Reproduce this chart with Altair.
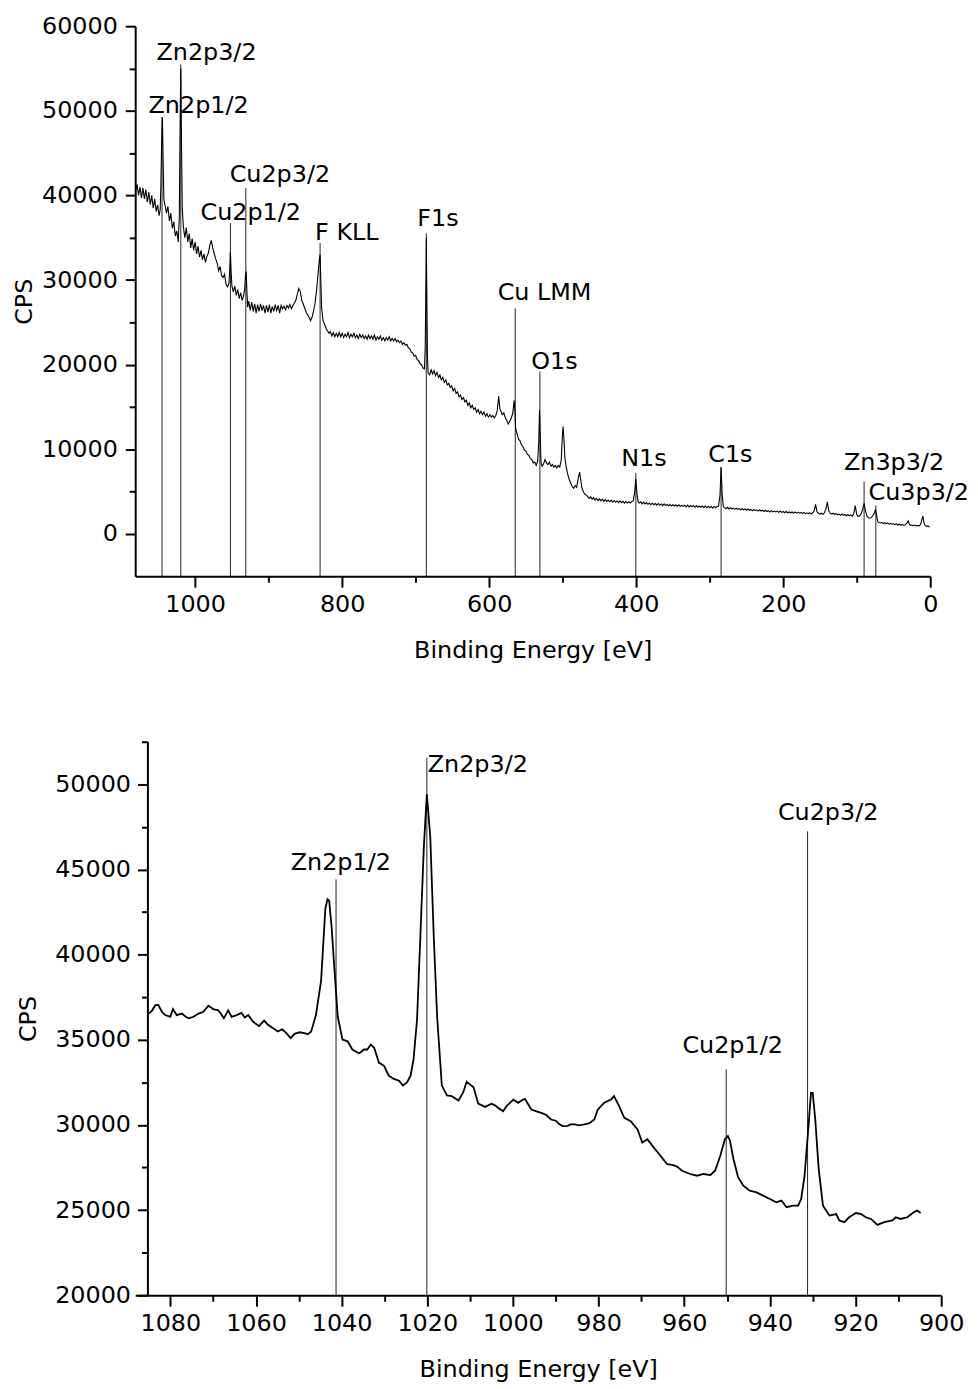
import altair as alt
import pandas as pd

FONT = "DejaVu Sans"
FS = 24

# ---------------- survey spectrum (top panel) ----------------
survey_be = [
    1081, 1079, 1077, 1075, 1073, 1071, 1069, 1067, 1065, 1063, 1061, 1059, 1057, 1055, 1053, 1051, 1049,
    1047.5, 1046.5, 1045.5, 1044.5, 1043.5, 1042.5, 1041, 1039, 1037, 1035, 1033, 1031, 1029, 1027, 1025, 1023,
    1021.5, 1020.5, 1019.5, 1018.5, 1017.5, 1016, 1014, 1012, 1010, 1008, 1006, 1004, 1002, 1000, 998, 996,
    994, 992, 990, 988, 986, 984, 982, 980, 978, 976, 974, 972, 970, 968, 966, 964, 962, 960, 958, 956, 954,
    953, 952, 951, 950, 948, 946, 944, 942, 940, 938, 936, 934, 932.5, 931.5, 930.5, 929.5, 928.5, 927, 925,
    923, 921, 919, 917, 915, 913, 911, 909, 907, 905, 903, 901, 899, 897, 895, 893, 891, 889, 887, 885, 883,
    881, 879, 877, 875, 873, 871, 869, 867, 865, 863, 861, 859, 857, 855, 853, 851, 849, 847, 845, 843, 841,
    839, 837, 835, 833, 831, 830, 829, 828, 826, 824, 822, 820, 818, 816, 814, 812, 810, 808, 806, 804, 802,
    800, 798, 796, 794, 792, 790, 788, 786, 784, 782, 780, 778, 776, 774, 772, 770, 768, 766, 764, 762, 760,
    758, 756, 754, 752, 750, 748, 746, 744, 742, 740, 738, 736, 734, 732, 730, 728, 726, 724, 722, 720, 718,
    716, 714, 712, 710, 708, 706, 704, 702, 700, 698, 696, 694, 692, 690, 688, 687, 686, 685.5, 685, 684, 683,
    681, 679, 677, 675, 673, 671, 669, 667, 665, 663, 661, 659, 657, 655, 653, 651, 649, 647, 645, 643, 641,
    639, 637, 635, 633, 631, 629, 627, 625, 623, 621, 619, 617, 615, 613, 611, 609, 607, 605, 603, 601, 599,
    597, 595, 593, 591, 589, 587, 585.5, 584, 582, 580, 578, 576, 574, 572, 570, 568, 566, 565, 564, 562, 560,
    558, 556, 554, 552, 550, 548, 546, 544, 542, 540, 538, 536, 534, 532.5, 531.5, 530.5, 529.5, 528, 526,
    524, 522, 520, 518, 516, 514, 512, 510, 508, 506, 504, 502, 500.5, 499.5, 498.5, 497, 495, 493, 491, 489,
    487, 485, 483, 481, 479, 477, 475.5, 474, 472, 470, 468, 466, 464, 462, 460, 458, 456, 454, 452, 450, 448,
    446, 444, 442, 440, 438, 436, 434, 432, 430, 428, 426, 424, 422, 420, 418, 416, 414, 412, 410, 408, 406,
    404, 402, 400.5, 399, 397.5, 396, 394, 392, 390, 388, 386, 384, 382, 380, 378, 376, 374, 372, 370, 368,
    366, 364, 362, 360, 358, 356, 354, 352, 350, 348, 346, 344, 342, 340, 338, 336, 334, 332, 330, 328, 326,
    324, 322, 320, 318, 316, 314, 312, 310, 308, 306, 304, 302, 300, 298, 296, 294, 292, 290, 288, 286, 284.5,
    283, 281.5, 280, 278, 276, 274, 272, 270, 268, 266, 264, 262, 260, 258, 256, 254, 252, 250, 248, 246, 244,
    242, 240, 238, 236, 234, 232, 230, 228, 226, 224, 222, 220, 218, 216, 214, 212, 210, 208, 206, 204, 202,
    200, 198, 196, 194, 192, 190, 188, 186, 184, 182, 180, 178, 176, 174, 172, 170, 168, 166, 164, 162, 160,
    158, 156, 154, 152, 150, 148, 146, 144, 142, 140, 138, 136, 134, 132, 130, 128, 126, 124, 122, 120, 118,
    116, 114, 112, 110, 108, 106, 104, 102, 100, 98, 96, 94, 92, 90, 88, 86, 84, 82, 80, 78, 76, 74.5, 73,
    71.5, 70, 68, 66, 64, 62, 60, 58, 56, 54, 52, 50, 48, 46, 44, 42, 40, 38, 36, 34, 32, 30, 28.5, 27, 25,
    23, 21, 19, 17, 15, 13, 11.5, 10, 8.5, 7, 5, 3, 1,
]
survey_cps = [
    40600, 41300, 40000, 41000, 39700, 40900, 39600, 40700, 39200, 40400, 38900, 40000, 38500, 39600, 38100, 38900, 37600,
    38300, 41500, 46500, 49200, 44000, 39500, 38900, 37900, 38700, 37000, 37900, 36100, 36900, 35200, 35800, 34500,
    37500, 48000, 55000, 46000, 38500, 36300, 35000, 36200, 34500, 35500, 33800, 34900, 33500, 34500, 33100, 34000,
    32700, 33500, 32400, 33100, 32100, 32800, 33200, 34100, 34700, 33800, 33100, 32500, 32000, 31100, 31600, 30500, 30300, 30700, 29500, 29200, 29600,
    31000, 33300, 31000, 29300, 28600, 29300, 28200, 28900, 27800, 28500, 27600, 28200, 29000, 30500, 31000, 28500, 26800, 27500, 26400,
    27400, 26300, 27200, 26100, 27100, 26300, 27200, 26400, 27000, 26100, 27000, 26200, 27100, 26100, 26900, 26300, 27100, 26400, 27000, 26100, 27000,
    26600, 26900, 26500, 27000, 26700, 27100, 26600, 27000, 27300, 27600, 28300, 29000, 28700, 27600, 27200, 26700, 26200, 25900, 25600, 25200, 25600,
    26300, 27200, 28600, 30500, 32400, 33000, 29800, 26800, 25200, 24800, 24300, 24000, 23700, 23900, 23400, 23800, 23300, 23700, 23300, 23800, 23300,
    23700, 23200, 23600, 23300, 23800, 23200, 23600, 23300, 23700, 23200, 23500, 23100, 23600, 23200, 23500, 23100, 23400, 23000, 23500, 23100, 23400,
    23000, 23500, 22900, 23300, 23000, 23400, 22900, 23200, 22800, 23200, 22900, 23300, 22800, 23100, 22800, 23100, 22700, 22900, 22600, 22800, 22400,
    22600, 22300, 22400, 22000, 21900, 21500, 21400, 21000, 21100, 20600, 20500, 20100, 20000, 19600, 19500, 22000, 30000, 35000, 30000, 21000, 19000,
    18800, 19400, 18900, 19300, 18700, 19100, 18500, 18800, 18200, 18500, 17900, 18200, 17600, 17800, 17300, 17500, 16900, 17200, 16600, 16800, 16200,
    16400, 15900, 16100, 15600, 15800, 15200, 15500, 14900, 15200, 14700, 14900, 14400, 14700, 14200, 14500, 14100, 14400, 13900, 14200, 13800, 14100,
    13800, 14000, 13700, 14000, 14600, 16300, 14800, 14500, 14100, 14300, 13700, 13400, 13000, 13300, 13700, 14200, 15800, 14500, 12500, 11800, 11200,
    11000, 10500, 10300, 9900, 9800, 9400, 9300, 8900, 8800, 8400, 8500, 8100, 8600, 11000, 14600, 11500, 8400, 8000, 8300,
    8800, 8400, 8200, 8500, 8000, 8200, 7900, 8100, 7800, 8100, 7900, 8700, 11500, 12700, 11500, 9000, 7800, 7000, 6400, 6000,
    5600, 5400, 5700, 5500, 6500, 7300, 6400, 5500, 5000, 4700, 4600, 4400, 4200, 4400, 4100, 4300, 4000, 4200, 3950, 4150, 3900,
    4100, 3850, 4050, 3850, 4000, 3800, 4000, 3750, 3950, 3750, 3900, 3700, 3900, 3700, 3850, 3650, 3850, 3650, 3800, 3650, 3850,
    3900, 5000, 6500, 4800, 3800, 3650, 3800, 3550, 3750, 3550, 3700, 3500, 3650, 3450, 3650, 3450, 3600, 3400, 3600, 3400,
    3550, 3350, 3550, 3350, 3500, 3300, 3500, 3300, 3450, 3300, 3450, 3250, 3450, 3250, 3400, 3250, 3400, 3200, 3400, 3200, 3350,
    3200, 3350, 3150, 3350, 3150, 3300, 3150, 3300, 3100, 3300, 3100, 3250, 3100, 3250, 3050, 3250, 3100, 3250, 3300, 4600, 7900,
    4600, 3300, 3100, 3000, 3150, 2950, 3100, 2950, 3050, 2900, 3050, 2900, 3000, 2850, 3000, 2850, 2950, 2800, 2950, 2800, 2900,
    2750, 2900, 2750, 2850, 2700, 2850, 2700, 2800, 2650, 2800, 2650, 2750, 2600, 2750, 2600, 2700, 2600, 2700, 2550, 2700, 2550,
    2650, 2500, 2650, 2500, 2600, 2500, 2600, 2450, 2600, 2450, 2550, 2450, 2550, 2400, 2550, 2400, 2500, 2400, 2500, 2350, 2500,
    2700, 3500, 2600, 2450, 2350, 2450, 2300, 2500, 2900, 3800, 2700, 2450, 2350, 2450, 2300, 2400, 2250, 2350, 2200, 2350, 2200,
    2300, 2150, 2300, 2150, 2250, 2100, 2400, 3350, 2300, 2050, 2150, 2400, 2900, 3600, 2700, 2100, 1900, 1850, 1950, 2150, 2500, 2900, 2200,
    1500, 1350, 1300, 1350, 1250, 1300, 1200, 1300, 1150, 1250, 1150, 1200, 1100, 1200, 1050, 1150, 1050, 1100, 1000, 1100, 1250, 1550, 1150, 1000, 1050,
    950, 1050, 950, 1000, 950, 1150, 1700, 2100, 1300, 1000, 900, 950, 780,
]

survey_peak_names = ["Zn2p1/2", "Zn2p3/2", "Cu2p1/2", "Cu2p3/2", "F KLL", "F1s",
                     "Cu LMM", "O1s", "N1s", "C1s", "Zn3p3/2", "Cu3p3/2"]
survey_peak_be = [1045, 1019.5, 952, 931, 830, 685.5, 564.5, 531, 400.5, 284.5, 90, 74]
survey_peak_top = [49250, 55470, 36730, 40900, 34380, 35500, 26650, 19200, 7200, 7850, 6200, 3400]
survey_label_be = [995.3, 984.5, 924.3, 884.7, 793.6, 669.6, 524.7, 511.2, 389.5, 271.9, 49.3, 15.6]
survey_label_cps = [49750, 56050, 37110, 41560, 34730, 36350, 27600, 19540, 8080, 8540, 7500, 4040]

# ---------------- high resolution spectrum (bottom panel) ----------------
hr_be = [
    1085.0, 1084.3, 1083.5, 1082.8, 1082.0, 1081.2, 1080.6, 1080.0, 1079.4, 1078.5, 1077.3, 1076.4, 1075.7,
    1074.6, 1073.4, 1072.3, 1071.1, 1070.5, 1070.0, 1068.8, 1068.1, 1067.5, 1066.5, 1065.7, 1064.5, 1063.4,
    1062.6, 1061.8, 1060.7, 1059.3, 1058.1, 1057.2, 1056.0, 1054.9, 1053.9, 1052.9, 1051.9, 1051.0, 1049.8,
    1048.7, 1047.9, 1047.1, 1046.0, 1044.8, 1043.8, 1043.3, 1042.9, 1042.3, 1041.7, 1040.9, 1039.8, 1038.6,
    1037.5, 1035.9, 1034.8, 1034.0, 1033.2, 1032.4, 1031.3, 1030.1, 1029.0, 1027.8, 1026.6, 1025.7, 1024.7,
    1023.9, 1023.2, 1022.4, 1021.6, 1020.8, 1020.1, 1019.3, 1018.5, 1017.7, 1016.6, 1015.4, 1014.3, 1012.7,
    1011.6, 1010.8, 1009.2, 1008.1, 1006.5, 1005.0, 1004.2, 1003.4, 1002.3, 1001.5, 1000.7, 999.9, 998.8,
    997.9, 997.2, 996.4, 995.7, 994.5, 993.4, 992.3, 991.1, 990.0, 989.2, 988.4, 987.2, 986.4, 985.6, 984.5,
    983.3, 982.1, 981.0, 980.2, 978.7, 977.1, 976.4, 975.2, 974.0, 972.5, 970.9, 969.8, 968.6, 967.1, 965.5,
    964.0, 962.8, 961.7, 960.5, 958.6, 957.0, 955.5, 953.9, 952.8, 951.6, 950.5, 949.8, 949.3, 948.5, 947.4,
    946.2, 944.7, 943.1, 941.6, 940.0, 938.5, 937.3, 936.1, 934.6, 933.4, 932.7, 931.9, 931.1, 930.4, 930.0,
    929.4, 928.6, 927.6, 926.1, 924.5, 923.8, 922.6, 921.5, 919.9, 918.7, 917.6, 916.4, 914.9, 913.3, 911.4,
    910.6, 909.5, 907.9, 906.4, 905.6, 904.8,
]
hr_cps = [
    36550, 36700, 37030, 37050, 36650, 36450, 36400, 36350, 36800, 36450, 36540, 36350, 36260,
    36350, 36540, 36640, 37000, 36900, 36800, 36730, 36500, 36260, 36730, 36350, 36450, 36580,
    36310, 36450, 36070, 35800, 36130, 35880, 35680, 35490, 35620, 35390, 35100, 35350, 35440,
    35390, 35330, 35490, 36450, 38460, 42700, 43250, 43160, 41500, 39220, 36350, 35010, 34910,
    34430, 34200, 34430, 34430, 34720, 34530, 33660, 33470, 32890, 32700, 32600, 32310, 32510,
    32890, 33860, 36160, 41150, 46340, 49410, 46920, 41150, 36350, 32310, 31730, 31690, 31440,
    31920, 32540, 32210, 31250, 31060, 31250, 31150, 31000, 30800, 31100, 31300, 31490, 31300,
    31450, 31530, 31200, 30900, 30800, 30710, 30600, 30320, 30250, 30050, 29930, 29950, 30050, 30030, 29980,
    30030, 30100, 30320, 30900, 31300, 31490, 31690, 31100, 30420, 30220, 29740, 28960, 29160, 28670, 28180,
    27700, 27650, 27560, 27310, 27120, 27020, 27120, 27060, 27310, 28180, 29160, 29350, 29060, 27990, 26920,
    26430, 26140, 26040, 25850, 25650, 25460, 25560, 25170, 25260, 25260, 25650, 27020, 29550, 31880, 31880,
    30320, 27410, 25260, 24680, 24770, 24390, 24290, 24580, 24830, 24770, 24580, 24480, 24130, 24290, 24390,
    24580, 24480, 24580, 24870, 24970, 24830,
]

hr_peak_names = ["Zn2p1/2", "Zn2p3/2", "Cu2p1/2", "Cu2p3/2"]
hr_peak_be = [1041.3, 1020.1, 950.2, 931.2]
hr_peak_top = [44420, 51560, 33270, 47240]
hr_label_be = [1040.2, 1008.2, 948.7, 926.4]
hr_label_cps = [44950, 50740, 34210, 47920]

# ---------------- tables ----------------
survey_df = pd.DataFrame({"be": survey_be, "cps": survey_cps})
survey_peaks_df = pd.DataFrame({"name": survey_peak_names, "be": survey_peak_be, "top": survey_peak_top})
survey_labels_df = pd.DataFrame({"name": survey_peak_names, "be": survey_label_be, "cps": survey_label_cps})
hr_df = pd.DataFrame({"be": hr_be, "cps": hr_cps})
hr_peaks_df = pd.DataFrame({"name": hr_peak_names, "be": hr_peak_be, "top": hr_peak_top})
hr_labels_df = pd.DataFrame({"name": hr_peak_names, "be": hr_label_be, "cps": hr_label_cps})


def major_x(values):
    return alt.Axis(values=values, format="d", title="Binding Energy [eV]", orient="bottom",
                    tickSize=11, tickWidth=2, tickColor="black", domainWidth=2, domainColor="black",
                    labelFont=FONT, labelFontSize=FS, labelColor="black", labelPadding=5,
                    labelFlush=False, labelOverlap=False,
                    titleFont=FONT, titleFontSize=FS, titleFontWeight="normal", titleColor="black",
                    titlePadding=23, grid=False)


def minor_x(values):
    return alt.Axis(values=values, title=None, labels=False, domain=False, orient="bottom",
                    tickSize=6, tickWidth=2, tickColor="black", grid=False)


def major_y(values, label_pad, title_pad, offset):
    return alt.Axis(values=values, format="d", title="CPS", orient="left", offset=offset,
                    tickSize=10, tickWidth=2, tickColor="black", domainWidth=2, domainColor="black",
                    labelFont=FONT, labelFontSize=FS, labelColor="black", labelPadding=label_pad,
                    labelFlush=False, labelOverlap=False,
                    titleFont=FONT, titleFontSize=FS, titleFontWeight="normal", titleColor="black",
                    titlePadding=title_pad, grid=False)


def minor_y(values, offset):
    return alt.Axis(values=values, title=None, labels=False, domain=False, orient="left", offset=offset,
                    tickSize=6, tickWidth=2, tickColor="black", grid=False)


# ---------------- top panel ----------------
top_x = alt.Scale(domain=[0, 1081.5], reverse=True, nice=False, zero=False)
top_y = alt.Scale(domain=[-5000, 60000], nice=False, zero=False)

top_rules = alt.Chart(survey_peaks_df).mark_rule(color="#222222", strokeWidth=1).encode(
    x=alt.X("be:Q", scale=top_x, axis=minor_x([100, 300, 500, 700, 900])),
    y=alt.Y("top:Q", scale=top_y, axis=minor_y(list(range(5000, 60000, 10000)), 0)),
    y2=alt.datum(-5000),
)
top_line = alt.Chart(survey_df).mark_line(color="black", strokeWidth=1.1).encode(
    x=alt.X("be:Q", scale=top_x, axis=major_x([0, 200, 400, 600, 800, 1000])),
    y=alt.Y("cps:Q", scale=top_y, axis=major_y(list(range(0, 60001, 10000)), 8, 5, 0)),
)
top_text = alt.Chart(survey_labels_df).mark_text(
    font=FONT, fontSize=FS, color="black", align="center", baseline="alphabetic"
).encode(
    x=alt.X("be:Q", scale=top_x, axis=None),
    y=alt.Y("cps:Q", scale=top_y, axis=None),
    text="name:N",
)
top = alt.layer(top_rules, top_line, top_text).resolve_axis(
    x="independent", y="independent"
).properties(width=800, height=553.5)

# ---------------- bottom panel ----------------
bot_x = alt.Scale(domain=[900, 1088.2], reverse=True, nice=False, zero=False)
bot_y = alt.Scale(domain=[20000, 52500], nice=False, zero=False)
Y_OFF = -12.3

bot_rules = alt.Chart(hr_peaks_df).mark_rule(color="#222222", strokeWidth=1).encode(
    x=alt.X("be:Q", scale=bot_x, axis=minor_x(list(range(910, 1080, 20)))),
    y=alt.Y("top:Q", scale=bot_y, axis=minor_y(list(range(22500, 52501, 5000)), Y_OFF)),
    y2=alt.datum(20000),
)
bot_line = alt.Chart(hr_df).mark_line(color="black", strokeWidth=1.8).encode(
    x=alt.X("be:Q", scale=bot_x, axis=major_x(list(range(900, 1081, 20)))),
    y=alt.Y("cps:Q", scale=bot_y, axis=major_y(list(range(20000, 50001, 5000)), 7, 14, Y_OFF)),
)
bot_text = alt.Chart(hr_labels_df).mark_text(
    font=FONT, fontSize=FS, color="black", align="center", baseline="alphabetic"
).encode(
    x=alt.X("be:Q", scale=bot_x, axis=None),
    y=alt.Y("cps:Q", scale=bot_y, axis=None),
    text="name:N",
)
bottom = alt.layer(bot_rules, bot_line, bot_text).resolve_axis(
    x="independent", y="independent"
).properties(width=811, height=557)

chart = alt.vconcat(top, bottom, spacing=78).properties(
    padding={"left": 4, "top": 2, "right": 0, "bottom": 0}
).configure_view(stroke=None)

chart.save("out.html", embed_options={"renderer": "svg", "actions": False})
